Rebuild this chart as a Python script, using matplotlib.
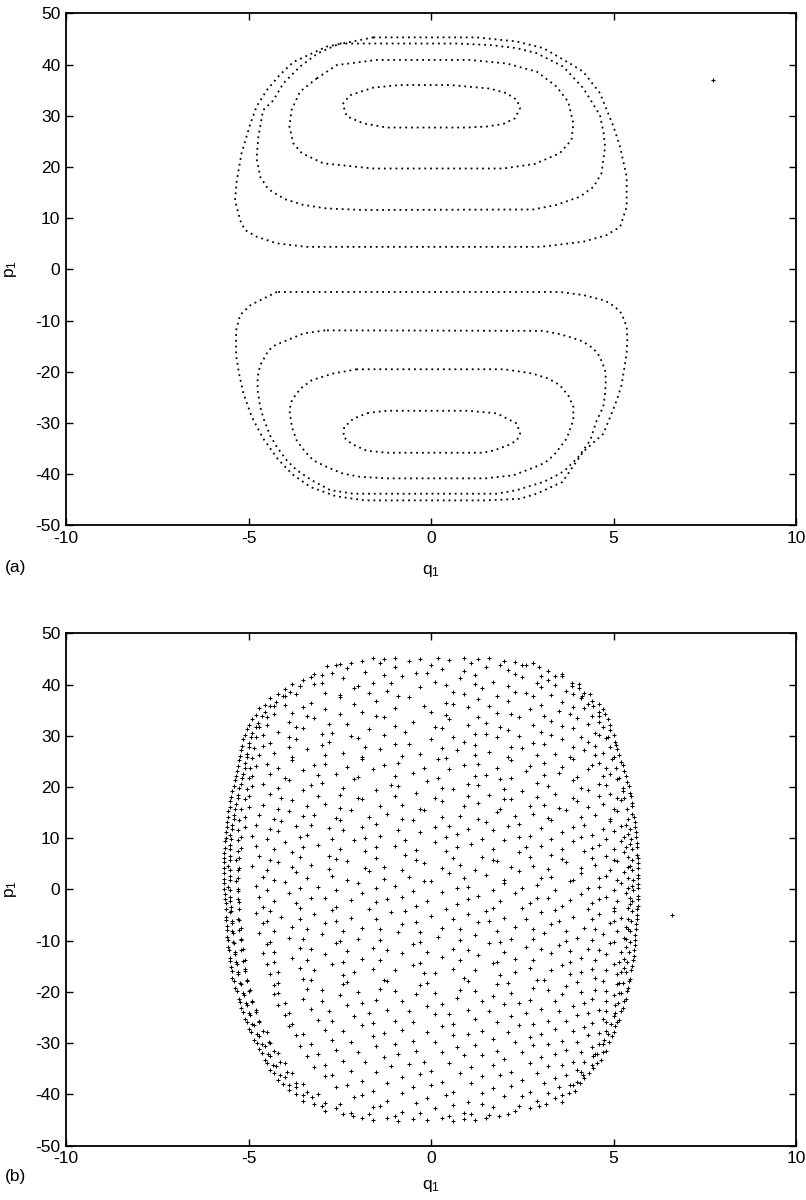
import matplotlib
matplotlib.use('Agg')
import matplotlib.pyplot as plt

plt.rcParams['font.family'] = ['Liberation Sans', 'DejaVu Sans']
plt.rcParams['mathtext.default'] = 'regular'
plt.rcParams['axes.unicode_minus'] = False

upper_inner = [(-2.42, 32.3), (-2.22, 34.0), (-1.58, 35.5), (-0.85, 36.0), (0.52, 36.0),
               (1.62, 35.3), (2.07, 34.4), (2.35, 33.1), (2.44, 31.5), (2.30, 29.5),
               (1.98, 28.4), (1.53, 27.9), (0.98, 27.7), (-1.21, 27.7), (-1.85, 28.5),
               (-2.31, 29.9), (-2.42, 32.3)]
upper_second = [(-3.13, 37.3), (-2.58, 39.9), (-1.49, 40.9), (1.07, 40.9), (2.07, 40.2),
                (2.9, 38.6), (3.44, 35.7), (3.76, 32.7), (3.9, 28.5), (3.85, 25.3),
                (3.53, 22.7), (2.85, 20.6), (1.98, 19.7), (-1.58, 19.7), (-2.95, 20.7),
                (-3.54, 22.7), (-3.77, 24.6), (-3.88, 27.9), (-3.82, 31.1), (-3.59, 34.7),
                (-3.13, 37.3)]
upper_third = [(-2.5, 44.1), (-1.67, 44.1), (0.7, 44.1), (1.62, 43.8), (2.35, 43.2),
               (2.9, 42.2), (3.62, 39.6), (4.17, 35.4), (4.63, 30.1), (4.73, 26.6),
               (4.77, 23.9), (4.67, 18.75), (4.45, 16.1), (4.08, 14.2), (3.44, 12.6),
               (2.8, 11.7), (-1.86, 11.6), (-2.86, 11.9), (-3.5, 12.6), (-4.0, 13.7),
               (-4.36, 15.2), (-4.5, 16.1), (-4.68, 18.1), (-4.78, 21.7), (-4.73, 25.9),
               (-4.6, 31.1), (-4.32, 33.0), (-4.05, 36.3), (-3.59, 39.6), (-3.1, 42.2),
               (-2.5, 44.1)]
upper_outer = [(-1.58, 45.3), (1.25, 45.3), (2.35, 44.5), (3.08, 43.2), (3.81, 40.2),
               (4.17, 38.6), (4.63, 34.4), (5.0, 27.9), (5.18, 23.9), (5.36, 18.1),
               (5.36, 12.2), (5.18, 8.3), (4.81, 6.7), (4.17, 5.4), (2.99, 4.4),
               (-3.41, 4.4), (-4.23, 5.1), (-4.78, 6.4), (-5.1, 7.7), (-5.23, 9.6),
               (-5.37, 13.5), (-5.32, 17.4), (-5.19, 22.7), (-4.96, 28.2), (-4.78, 31.8),
               (-4.5, 35.0), (-4.14, 38.0), (-3.77, 40.5), (-2.86, 43.5), (-1.58, 45.3)]

lower_inner = [(-1.71, -28.0), (-2.12, -29.1), (-2.38, -30.8), (-2.4, -32.7), (-2.17, -34.1),
               (-1.76, -35.4), (-1.21, -35.8), (1.43, -35.8), (1.75, -35.3), (2.12, -34.3),
               (2.35, -33.4), (2.44, -32.05), (2.35, -30.1), (1.8, -28.1), (1.0, -27.6),
               (-1.2, -27.6), (-1.71, -28.0)]
lower_second = [(-2.03, -19.5), (-2.67, -20.3), (-3.26, -21.6), (-3.58, -23.3), (-3.81, -25.5),
                (-3.88, -27.5), (-3.81, -30.8), (-3.68, -33.4), (-3.45, -35.6), (-3.22, -37.3),
                (-2.85, -38.6), (-2.4, -39.9), (-1.94, -40.5), (-1.2, -40.8), (1.5, -40.8),
                (2.26, -40.2), (2.99, -38.2), (3.21, -37.3), (3.4, -35.96), (3.58, -34.3),
                (3.72, -33.0), (3.9, -29.4), (3.9, -26.8), (3.76, -24.6), (3.53, -22.6),
                (3.21, -21.3), (2.76, -20.3), (2.0, -19.5), (-2.03, -19.5)]
lower_third = [(-2.9, -11.9), (-3.49, -12.5), (-4.27, -14.8), (-4.45, -15.8), (-4.68, -18.7),
               (-4.75, -21.0), (-4.75, -23.6), (-4.68, -26.8), (-4.59, -29.1), (-4.41, -32.4),
               (-4.22, -34.7), (-3.95, -37.3), (-3.68, -39.2), (-3.26, -41.2), (-2.76, -43.1),
               (-2.12, -43.8), (1.8, -43.8), (2.35, -43.1), (2.8, -42.1), (3.08, -41.5),
               (3.53, -39.9), (3.72, -38.9), (4.08, -36.3), (4.17, -35.3), (4.36, -33.4),
               (4.54, -29.5), (4.72, -26.8), (4.77, -24.2), (4.79, -21.6), (4.77, -19.7),
               (4.63, -17.1), (4.45, -15.45), (4.17, -14.1), (3.85, -13.3), (3.53, -12.65),
               (3.08, -12.0), (-2.9, -11.9)]
lower_outer = [(-4.22, -4.4), (-4.59, -5.7), (-4.95, -7.0), (-5.23, -8.9), (-5.34, -11.9),
               (-5.34, -16.8), (-5.25, -20.7), (-5.14, -24.2), (-4.91, -28.8), (-4.6, -33.0),
               (-4.2, -37.0), (-3.8, -40.0), (-3.3, -42.5), (-2.6, -44.3), (-1.8, -45.1),
               (1.5, -45.1), (2.44, -44.8), (2.89, -43.8), (3.6, -41.5), (4.17, -35.6),
               (4.72, -32.1), (4.95, -28.1), (5.09, -25.5), (5.22, -22.6), (5.31, -18.7),
               (5.36, -16.4), (5.38, -13.5), (5.36, -11.2), (5.22, -8.6), (5.04, -7.3),
               (4.77, -6.1), (4.17, -5.0), (3.53, -4.4), (-4.22, -4.4)]
a_stray = [(7.73, 37.0)]

# (b) chaotic orbit: scattered section points, (q1, p1)
b_points = [
    (-1.9, 44.7), (-1.6, 45.1), (-1.3, 44.9), (-1.0, 45.2), (-0.6, 44.6), (-0.3, 45.0), (0.2, 45.2),
    (0.5, 44.8), (0.9, 45.1), (1.3, 44.9), (1.6, 45.2), (2.0, 44.7), (2.3, 44.5),
    (-2.85, 43.6), (-2.6, 43.9), (-2.3, 43.2), (-1.8, 42.5), (-1.0, 43.4), (-0.4, 42.3), (0.3, 43.1),
    (0.9, 42.6), (1.5, 43.5), (2.1, 42.9), (2.6, 43.8), (2.95, 43.4), (3.2, 42.6),
    (-3.5, 40.8), (-3.3, 41.5), (-3.0, 40.3), (-2.4, 41.2), (-1.6, 40.4), (-0.8, 41.6), (0.1, 40.6),
    (0.8, 41.3), (1.7, 40.5), (2.5, 41.4), (3.2, 40.9), (3.6, 41.6), (3.85, 40.4),
    (-4.0, 39.2), (-3.85, 38.6), (-3.6, 39.7), (-2.9, 38.4), (-2.1, 39.3), (-1.2, 38.7), (-0.3, 39.5),
    (0.6, 38.5), (1.4, 39.4), (2.3, 38.6), (3.0, 39.6), (3.7, 38.8), (4.05, 39.3), (4.2, 38.4),
    (-4.4, 37.3), (-4.25, 36.6), (-4.0, 37.8), (-3.3, 36.5), (-2.5, 37.5), (-1.5, 36.8), (-0.6, 37.6),
    (0.4, 36.4), (1.3, 37.2), (2.1, 36.7), (2.8, 37.7), (3.6, 36.6), (4.1, 37.4), (4.4, 36.8),
    (-4.7, 35.4), (-4.55, 34.7), (-4.3, 35.8), (-3.8, 34.5), (-2.9, 35.3), (-1.9, 34.6), (-1.0, 35.5),
    (0.0, 34.7), (1.0, 35.6), (1.8, 34.4), (2.7, 35.2), (3.5, 34.8), (4.2, 35.5), (4.6, 34.6), (4.7, 35.3),
    (-4.9, 33.2), (-4.75, 32.5), (-4.5, 33.7), (-3.9, 32.6), (-3.2, 33.4), (-2.3, 32.4), (-1.3, 33.6),
    (-0.5, 32.7), (0.5, 33.3), (1.5, 32.5), (2.4, 33.6), (3.3, 32.8), (4.0, 33.4), (4.6, 32.6), (4.85, 33.3),
    (-5.05, 31.4), (-4.9, 30.6), (-4.7, 31.7), (-4.2, 30.8), (-3.5, 31.5), (-2.7, 30.5), (-1.7, 31.3),
    (-0.7, 30.7), (0.3, 31.6), (1.2, 30.4), (2.1, 31.2), (3.0, 30.8), (3.9, 31.5), (4.5, 30.6), (4.9, 31.2),
    (-5.15, 29.3), (-5.0, 28.5), (-4.8, 29.7), (-4.4, 28.6), (-3.7, 29.4), (-2.8, 28.7), (-2.0, 29.6),
    (-1.0, 28.4), (0.0, 29.3), (0.9, 28.8), (1.8, 29.7), (2.8, 28.5), (3.6, 29.4), (4.3, 28.7),
    (4.8, 29.5), (5.05, 28.8),
    (-5.2, 27.2), (-5.05, 26.5), (-4.85, 27.7), (-4.3, 26.6), (-3.4, 27.4), (-2.4, 26.7), (-1.4, 27.5),
    (-0.3, 26.4), (0.7, 27.3), (1.6, 26.8), (2.5, 27.6), (3.4, 26.5), (4.2, 27.3), (4.7, 26.6), (5.1, 27.4),
    (-5.25, 25.3), (-5.1, 24.6), (-4.9, 25.6), (-4.5, 24.5), (-3.8, 25.2), (-2.9, 24.4), (-1.9, 25.5),
    (-0.9, 24.7), (0.2, 25.4), (1.3, 24.5), (2.2, 25.3), (3.1, 24.6), (3.9, 25.5), (4.6, 24.7),
    (4.95, 25.4), (5.2, 24.8),
    (-5.32, 23.2), (-5.15, 22.5), (-4.95, 23.7), (-4.4, 22.6), (-3.5, 23.3), (-2.6, 22.5), (-1.6, 23.5),
    (-0.5, 22.7), (0.5, 23.6), (1.5, 22.4), (2.6, 23.2), (3.5, 22.8), (4.3, 23.5), (4.9, 22.6), (5.3, 23.1),
    (-5.38, 21.4), (-5.2, 20.6), (-5.0, 21.7), (-4.6, 20.5), (-3.9, 21.3), (-3.0, 20.7), (-2.1, 21.6),
    (-1.1, 20.4), (-0.1, 21.2), (1.0, 20.6), (1.9, 21.5), (2.9, 20.8), (3.9, 21.4), (4.6, 20.5),
    (5.1, 21.6), (5.38, 20.9),
    (-5.44, 19.2), (-5.3, 18.5), (-5.05, 19.6), (-4.4, 18.7), (-3.5, 19.4), (-2.5, 18.4), (-1.5, 19.5),
    (-0.4, 18.8), (0.6, 19.6), (1.6, 18.5), (2.5, 19.3), (3.4, 18.7), (4.3, 19.5), (4.9, 18.6),
    (5.25, 19.3), (5.45, 18.8),
    (-5.5, 17.3), (-5.35, 16.6), (-5.1, 17.7), (-4.6, 16.5), (-3.8, 17.4), (-2.9, 16.7), (-1.9, 17.6),
    (-0.8, 16.4), (0.3, 17.3), (1.3, 16.8), (2.2, 17.6), (3.1, 16.5), (4.0, 17.2), (4.7, 16.6),
    (5.2, 17.5), (5.5, 16.9),
    (-5.55, 15.4), (-5.4, 14.6), (-5.2, 15.7), (-4.7, 14.5), (-3.9, 15.3), (-3.2, 14.6), (-2.2, 15.5),
    (-1.2, 14.7), (-0.2, 15.6), (0.8, 14.4), (1.8, 15.2), (2.8, 14.8), (3.7, 15.5), (4.5, 14.6),
    (5.1, 15.4), (5.5, 14.7),
    (-5.58, 13.2), (-5.45, 12.5), (-5.25, 13.6), (-4.8, 12.6), (-4.1, 13.4), (-3.3, 12.5), (-2.5, 13.5),
    (-1.5, 12.8), (-0.5, 13.6), (0.5, 12.4), (1.5, 13.2), (2.4, 12.7), (3.3, 13.6), (4.2, 12.5),
    (4.9, 13.3), (5.35, 12.6), (5.58, 13.1),
    (-5.62, 11.3), (-5.5, 10.6), (-5.3, 11.7), (-4.9, 10.5), (-4.2, 11.4), (-3.4, 10.7), (-2.4, 11.6),
    (-1.4, 10.4), (-0.3, 11.2), (0.7, 10.8), (1.7, 11.6), (2.7, 10.5), (3.6, 11.3), (4.4, 10.7),
    (5.0, 11.5), (5.4, 10.8), (5.62, 11.2),
    (-5.64, 9.4), (-5.5, 8.6), (-5.3, 9.7), (-4.8, 8.5), (-4.0, 9.3), (-3.1, 8.7), (-2.1, 9.6),
    (-1.0, 8.4), (0.1, 9.2), (1.1, 8.8), (2.0, 9.6), (3.0, 8.5), (3.9, 9.4), (4.6, 8.7),
    (5.2, 9.5), (5.45, 8.8), (5.63, 9.1),
    (-5.66, 7.2), (-5.52, 6.5), (-5.3, 7.6), (-4.7, 6.6), (-3.8, 7.4), (-2.8, 6.5), (-1.8, 7.5),
    (-0.7, 6.7), (0.4, 7.6), (1.4, 6.4), (2.4, 7.3), (3.3, 6.8), (4.2, 7.6), (4.8, 6.5),
    (5.3, 7.3), (5.65, 6.8),
    (-5.66, 5.3), (-5.55, 4.5), (-5.35, 5.7), (-4.9, 4.6), (-4.2, 5.4), (-3.3, 4.7), (-2.3, 5.6),
    (-1.3, 4.4), (-0.2, 5.2), (0.8, 4.8), (1.8, 5.6), (2.8, 4.5), (3.7, 5.3), (4.5, 4.7),
    (5.1, 5.5), (5.45, 4.6), (5.67, 5.2),
    (-5.66, 3.3), (-5.5, 2.6), (-5.3, 3.7), (-4.6, 2.5), (-3.7, 3.4), (-2.7, 2.7), (-1.7, 3.6),
    (-0.6, 2.4), (0.5, 3.2), (1.5, 2.8), (2.4, 3.6), (3.3, 2.5), (4.1, 3.3), (4.8, 2.7),
    (5.3, 3.5), (5.68, 2.9),
    (-5.66, 1.2), (-5.55, 0.5), (-5.35, 1.6), (-4.8, 0.6), (-4.0, 1.4), (-3.1, 0.4), (-2.0, 1.3),
    (-1.0, 0.7), (0.0, 1.6), (1.0, 0.4), (2.0, 1.2), (2.9, 0.8), (3.8, 1.6), (4.6, 0.5),
    (5.2, 1.3), (5.5, 0.6), (5.68, 1.1),
    (-5.65, -0.8), (-5.5, -1.5), (-5.3, -0.4), (-4.7, -1.4), (-3.9, -0.6), (-2.9, -1.6), (-1.9, -0.7),
    (-0.8, -1.5), (0.3, -0.5), (1.3, -1.3), (2.3, -0.6), (3.2, -1.6), (4.1, -0.8), (4.8, -1.5),
    (5.35, -0.6), (5.68, -1.2),
    (-5.63, -2.7), (-5.48, -3.5), (-5.25, -2.4), (-4.6, -3.4), (-3.7, -2.6), (-2.6, -3.5), (-1.5, -2.5),
    (-0.4, -3.3), (0.7, -2.8), (1.7, -3.6), (2.7, -2.6), (3.6, -3.3), (4.4, -2.7), (5.0, -3.6),
    (5.45, -2.8), (5.66, -3.2),
    (-5.62, -5.3), (-5.5, -4.5), (-5.3, -5.7), (-4.8, -4.6), (-4.1, -5.4), (-3.2, -4.7), (-2.2, -5.6),
    (-1.1, -4.4), (0.0, -5.2), (1.0, -4.8), (2.0, -5.6), (3.0, -4.5), (3.9, -5.3), (4.6, -4.7),
    (5.2, -5.5), (5.64, -4.9),
    (-5.6, -7.2), (-5.45, -6.5), (-5.2, -7.6), (-4.6, -6.6), (-3.8, -7.4), (-2.9, -6.5), (-1.9, -7.5),
    (-0.8, -6.7), (0.3, -7.6), (1.3, -6.4), (2.3, -7.3), (3.3, -6.8), (4.2, -7.6), (4.9, -6.5),
    (5.35, -7.3), (5.62, -6.8),
    (-5.58, -9.3), (-5.42, -8.6), (-5.2, -9.7), (-4.7, -8.5), (-3.9, -9.4), (-3.0, -8.7), (-2.0, -9.6),
    (-0.9, -8.4), (0.2, -9.2), (1.2, -8.8), (2.2, -9.6), (3.1, -8.5), (4.0, -9.4), (4.7, -8.7),
    (5.3, -9.5), (5.6, -8.9),
    (-5.55, -11.2), (-5.4, -10.5), (-5.15, -11.6), (-4.5, -10.6), (-3.6, -11.4), (-2.6, -10.5),
    (-1.6, -11.5), (-0.5, -10.7), (0.6, -11.6), (1.6, -10.4), (2.6, -11.3), (3.5, -10.8),
    (4.3, -11.6), (4.9, -10.5), (5.35, -11.3), (5.58, -10.8),
    (-5.52, -13.3), (-5.38, -12.6), (-5.1, -13.7), (-4.6, -12.5), (-3.8, -13.4), (-2.9, -12.7),
    (-1.9, -13.6), (-0.8, -12.4), (0.3, -13.2), (1.3, -12.8), (2.3, -13.6), (3.3, -12.5),
    (4.1, -13.3), (4.8, -12.7), (5.3, -13.5), (5.55, -12.9),
    (-5.48, -15.2), (-5.32, -14.5), (-5.1, -15.6), (-4.5, -14.6), (-3.6, -15.4), (-2.7, -14.5),
    (-1.6, -15.5), (-0.5, -14.7), (0.6, -15.6), (1.7, -14.4), (2.7, -15.3), (3.6, -14.8),
    (4.4, -15.6), (5.0, -14.5), (5.3, -15.3), (5.5, -14.9),
    (-5.44, -17.3), (-5.28, -16.6), (-5.05, -17.7), (-4.4, -16.5), (-3.5, -17.4), (-2.4, -16.7),
    (-1.3, -17.6), (-0.2, -16.4), (0.9, -17.3), (1.9, -16.8), (2.9, -17.6), (3.8, -16.5),
    (4.5, -17.2), (5.1, -16.6), (5.45, -17.4),
    (-5.36, -19.2), (-5.2, -18.5), (-4.95, -19.6), (-4.3, -18.6), (-3.4, -19.4), (-2.4, -18.5),
    (-1.4, -19.5), (-0.3, -18.7), (0.8, -19.6), (1.8, -18.4), (2.8, -19.3), (3.7, -18.8),
    (4.5, -19.6), (5.1, -18.5), (5.4, -19.2),
    (-5.27, -21.3), (-5.12, -20.6), (-4.9, -21.7), (-4.3, -20.5), (-3.5, -21.4), (-2.5, -20.7),
    (-1.5, -21.6), (-0.4, -20.4), (0.7, -21.2), (1.7, -20.8), (2.7, -21.6), (3.6, -20.5),
    (4.4, -21.3), (5.0, -20.7), (5.33, -21.4),
    (-5.2, -23.2), (-5.05, -22.5), (-4.8, -23.6), (-4.2, -22.6), (-3.3, -23.4), (-2.3, -22.5),
    (-1.2, -23.5), (-0.1, -22.7), (1.0, -23.6), (2.0, -22.4), (3.0, -23.3), (3.9, -22.8),
    (4.6, -23.6), (5.05, -22.5), (5.25, -23.2),
    (-5.1, -25.3), (-4.95, -24.6), (-4.7, -25.7), (-4.0, -24.5), (-3.1, -25.4), (-2.1, -24.7),
    (-1.0, -25.6), (0.1, -24.4), (1.2, -25.2), (2.2, -24.8), (3.2, -25.6), (4.0, -24.5),
    (4.7, -25.3), (5.0, -24.7), (5.15, -25.4),
    (-5.0, -27.2), (-4.85, -26.5), (-4.6, -27.6), (-3.9, -26.6), (-2.9, -27.4), (-1.9, -26.5),
    (-0.8, -27.5), (0.3, -26.7), (1.4, -27.6), (2.4, -26.4), (3.4, -27.3), (4.2, -26.8),
    (4.8, -27.6), (5.05, -26.7),
    (-4.85, -29.3), (-4.7, -28.6), (-4.45, -29.7), (-3.7, -28.5), (-2.7, -29.4), (-1.6, -28.7),
    (-0.5, -29.6), (0.6, -28.4), (1.7, -29.2), (2.7, -28.8), (3.6, -29.6), (4.3, -28.5),
    (4.75, -29.3), (4.95, -28.7),
    (-4.7, -31.2), (-4.55, -30.5), (-4.3, -31.6), (-3.6, -30.6), (-2.6, -31.4), (-1.5, -30.5),
    (-0.4, -31.5), (0.7, -30.7), (1.8, -31.6), (2.8, -30.4), (3.7, -31.3), (4.4, -30.8), (4.8, -31.5),
    (-4.55, -33.3), (-4.4, -32.6), (-4.15, -33.7), (-3.4, -32.5), (-2.4, -33.4), (-1.3, -32.7),
    (-0.2, -33.6), (0.9, -32.4), (2.0, -33.2), (3.0, -32.8), (3.9, -33.6), (4.45, -32.6), (4.65, -33.3),
    (-4.4, -35.2), (-4.25, -34.5), (-3.95, -35.6), (-3.2, -34.6), (-2.2, -35.4), (-1.1, -34.5),
    (0.0, -35.5), (1.1, -34.7), (2.2, -35.6), (3.2, -34.4), (4.0, -35.3), (4.45, -34.8),
    (-4.2, -37.3), (-4.0, -36.6), (-3.7, -37.7), (-2.9, -36.5), (-1.9, -37.4), (-0.8, -36.7),
    (0.3, -37.6), (1.4, -36.4), (2.5, -37.2), (3.4, -36.8), (4.0, -37.6), (4.2, -36.9),
    (-3.9, -39.2), (-3.7, -38.5), (-3.4, -39.6), (-2.6, -38.6), (-1.6, -39.4), (-0.5, -38.5),
    (0.6, -39.5), (1.7, -38.7), (2.7, -39.6), (3.5, -38.5), (3.95, -39.3),
    (-3.5, -41.3), (-3.25, -40.6), (-2.9, -41.7), (-2.1, -40.5), (-1.2, -41.4), (-0.1, -40.7),
    (1.0, -41.6), (2.0, -40.4), (2.9, -41.3), (3.4, -40.8), (3.6, -41.5),
    (-2.9, -43.2), (-2.6, -42.6), (-2.2, -43.7), (-1.6, -42.5), (-0.8, -43.4), (0.1, -42.7),
    (0.9, -43.6), (1.7, -42.4), (2.3, -43.3), (2.7, -42.7),
    (-1.9, -44.6), (-1.6, -45.0), (-1.2, -44.7), (-0.9, -45.2), (-0.5, -44.8), (-0.1, -45.1),
    (0.3, -44.6), (0.6, -45.2), (0.9, -44.9), (1.2, -45.1), (1.5, -44.6),
]

# (b) further points lying between the rows above
b_between = [
    (-1.4, 44.2), (0.0, 43.8), (1.1, 44.3), (1.9, 43.9),
    (-2.7, 42.2), (-1.3, 41.8), (-0.1, 42.3), (1.2, 41.9), (2.3, 42.1), (3.0, 41.7),
    (-3.2, 40.1), (-2.0, 39.8), (-1.1, 40.3), (0.4, 39.9), (1.2, 40.2), (2.1, 39.7), (2.9, 40.3), (3.4, 39.9),
    (-3.7, 38.1), (-2.5, 37.9), (-1.7, 38.3), (-0.9, 37.8), (0.9, 38.2), (1.8, 37.7), (2.6, 38.3),
    (3.3, 37.9), (3.9, 38.1),
    (-4.0, 36.1), (-3.5, 35.7), (-2.1, 36.2), (-0.2, 35.8), (0.6, 36.3), (1.6, 35.9), (3.0, 36.1),
    (3.9, 35.7), (4.3, 36.3),
    (-4.3, 34.2), (-3.4, 33.8), (-2.5, 34.3), (-1.5, 33.9), (0.4, 34.1), (1.3, 33.7), (2.2, 34.2),
    (3.1, 33.9), (3.8, 34.3), (4.4, 33.8),
    (-4.5, 32.1), (-3.7, 31.8), (-2.8, 32.3), (-1.0, 32.0), (0.1, 31.7), (1.0, 32.2), (1.9, 31.8),
    (2.8, 32.2), (3.6, 31.9), (4.3, 32.3),
    (-4.6, 30.2), (-3.9, 29.8), (-3.0, 30.3), (-2.2, 29.9), (-1.3, 30.1), (0.6, 29.8), (1.5, 30.3),
    (2.4, 29.9), (3.3, 30.2), (4.1, 29.8), (4.6, 30.1),
    (-4.6, 28.1), (-3.9, 27.8), (-3.0, 28.2), (-1.8, 27.9), (-0.6, 28.3), (0.3, 27.7), (1.2, 28.2),
    (2.2, 27.8), (3.1, 28.3), (3.9, 27.9), (4.5, 28.1),
    (-4.7, 26.2), (-3.8, 25.8), (-2.9, 26.3), (-1.9, 25.9), (-0.8, 26.1), (0.4, 25.7), (1.2, 26.2),
    (2.1, 25.8), (2.9, 26.3), (3.8, 25.9), (4.5, 26.2),
    (-4.8, 24.1), (-4.2, 23.8), (-3.2, 24.2), (-2.3, 23.9), (-1.3, 24.3), (-0.2, 23.8), (0.9, 24.2),
    (1.8, 23.7), (2.7, 24.1), (3.6, 23.9), (4.4, 24.3), (4.8, 23.8),
    (-4.9, 22.2), (-4.0, 21.8), (-3.1, 22.3), (-2.0, 21.9), (-1.0, 22.1), (0.2, 21.7), (1.2, 22.2),
    (2.2, 21.8), (3.1, 22.3), (4.0, 21.9), (4.7, 22.1),
    (-4.9, 20.1), (-4.2, 19.8), (-3.3, 20.3), (-2.4, 19.9), (-0.9, 20.2), (0.3, 19.8), (1.3, 20.3),
    (2.0, 19.7), (3.2, 20.1), (4.1, 19.9), (4.8, 20.3),
    (-5.0, 18.2), (-4.1, 17.8), (-3.1, 18.2), (-2.0, 17.9), (-1.0, 18.3), (0.1, 17.8), (1.0, 18.2),
    (2.0, 17.7), (2.9, 18.1), (3.9, 17.9), (4.6, 18.3), (5.1, 17.8),
    (-5.0, 16.1), (-4.2, 15.8), (-3.4, 16.3), (-2.5, 15.9), (-1.4, 16.2), (-0.3, 15.7), (0.9, 16.2),
    (1.9, 15.8), (2.7, 16.3), (3.5, 15.9), (4.3, 16.1), (5.0, 15.8),
    (-5.1, 14.2), (-4.3, 13.8), (-3.5, 14.3), (-2.6, 13.9), (-1.7, 14.1), (-0.8, 13.7), (0.3, 14.2),
    (1.3, 13.8), (2.3, 14.3), (3.2, 13.9), (4.1, 14.2), (4.9, 13.8),
    (-5.1, 12.1), (-4.4, 11.8), (-3.7, 12.3), (-2.8, 11.9), (-1.9, 12.2), (-0.9, 11.7), (0.1, 12.2),
    (1.0, 11.8), (2.1, 12.3), (3.0, 11.9), (3.9, 12.1), (4.7, 11.8), (5.2, 12.3),
    (-5.2, 10.2), (-4.5, 9.8), (-3.6, 10.3), (-2.7, 9.9), (-1.8, 10.1), (-0.7, 9.7), (0.4, 10.2),
    (1.4, 9.8), (2.4, 10.3), (3.3, 9.9), (4.1, 10.2), (4.8, 9.8), (5.3, 10.2),
    (-5.2, 8.1), (-4.3, 7.8), (-3.5, 8.3), (-2.5, 7.9), (-1.5, 8.2), (-0.4, 7.7), (0.7, 8.2),
    (1.7, 7.8), (2.6, 8.3), (3.6, 7.9), (4.4, 8.1), (5.0, 7.8), (5.35, 8.3),
    (-5.25, 6.2), (-4.4, 5.8), (-3.6, 6.3), (-2.6, 5.9), (-1.5, 6.1), (-0.4, 5.7), (0.6, 6.2),
    (1.7, 5.8), (2.7, 6.3), (3.6, 5.9), (4.4, 6.2), (5.0, 5.8), (5.4, 6.3),
    (-5.25, 4.1), (-4.5, 3.8), (-3.8, 4.3), (-2.8, 3.9), (-1.8, 4.2), (-0.8, 3.7), (0.3, 4.2),
    (1.2, 3.8), (2.2, 4.3), (3.2, 3.9), (4.1, 4.1), (4.9, 3.8), (5.4, 4.3),
    (-5.3, 2.2), (-4.3, 1.8), (-3.4, 2.3), (-2.3, 1.9), (-1.3, 2.1), (-0.2, 1.7), (0.9, 2.2),
    (2.0, 1.8), (3.0, 2.3), (3.9, 1.9), (4.6, 2.2), (5.1, 1.8), (5.4, 2.3),
    (-5.3, 0.1), (-4.5, -0.2), (-3.6, 0.3), (-2.6, -0.1), (-1.5, 0.2), (-0.5, -0.3), (0.7, 0.2),
    (1.7, -0.2), (2.5, 0.3), (3.4, -0.1), (4.3, 0.2), (5.0, -0.2), (5.4, 0.3),
    (-5.3, -1.9), (-4.3, -2.2), (-3.3, -1.7), (-2.2, -2.1), (-1.2, -1.8), (-0.1, -2.3), (1.0, -1.8),
    (1.9, -2.2), (2.9, -1.7), (3.8, -2.1), (4.6, -1.8), (5.1, -2.2), (5.45, -1.7),
    (-5.25, -3.9), (-4.4, -4.2), (-3.6, -3.7), (-2.7, -4.1), (-1.7, -3.8), (-0.7, -4.3), (0.4, -3.8),
    (1.5, -4.2), (2.5, -3.7), (3.4, -4.1), (4.3, -3.8), (5.0, -4.2), (5.4, -3.7),
    (-5.25, -5.9), (-4.5, -6.2), (-3.6, -5.7), (-2.6, -6.1), (-1.5, -5.8), (-0.4, -6.3), (0.6, -5.8),
    (1.6, -6.2), (2.6, -5.7), (3.5, -6.1), (4.4, -5.8), (5.0, -6.2), (5.4, -5.7),
    (-5.25, -7.9), (-4.3, -8.2), (-3.4, -7.7), (-2.4, -8.1), (-1.4, -7.8), (-0.3, -8.3), (0.8, -7.8),
    (1.8, -8.2), (2.8, -7.7), (3.7, -8.1), (4.5, -7.8), (5.1, -8.2), (5.4, -7.7),
    (-5.2, -9.9), (-4.4, -10.2), (-3.5, -9.7), (-2.5, -10.1), (-1.4, -9.8), (-0.3, -10.3), (0.8, -9.8),
    (1.9, -10.2), (2.8, -9.7), (3.7, -10.1), (4.4, -9.8), (5.0, -10.2), (5.35, -9.7),
    (-5.2, -11.9), (-4.3, -12.2), (-3.3, -11.7), (-2.3, -12.1), (-1.2, -11.8), (-0.1, -12.3),
    (1.0, -11.8), (2.0, -12.2), (3.0, -11.7), (3.8, -12.1), (4.6, -11.8), (5.2, -12.2),
    (-5.15, -13.9), (-4.3, -14.2), (-3.4, -13.7), (-2.4, -14.1), (-1.4, -13.8), (-0.3, -14.3),
    (0.8, -13.8), (1.8, -14.2), (2.8, -13.7), (3.8, -14.1), (4.5, -13.8), (5.15, -14.2),
    (-5.1, -15.9), (-4.2, -16.2), (-3.2, -15.7), (-2.1, -16.1), (-1.0, -15.8), (0.1, -16.3),
    (1.2, -15.8), (2.3, -16.2), (3.3, -15.7), (4.1, -16.1), (4.8, -15.8), (5.2, -16.2),
    (-5.05, -17.9), (-4.2, -18.2), (-3.3, -17.7), (-2.3, -18.1), (-1.2, -17.8), (-0.1, -18.3),
    (1.0, -17.8), (2.1, -18.2), (3.1, -17.7), (4.0, -18.1), (4.7, -17.8), (5.15, -18.2),
    (-5.0, -19.9), (-4.2, -20.2), (-3.0, -19.7), (-2.0, -20.1), (-1.0, -19.8), (0.1, -20.3),
    (1.2, -19.8), (2.2, -20.2), (3.2, -19.7), (4.1, -20.1), (4.8, -19.8), (5.15, -20.2),
    (-4.9, -21.9), (-4.0, -22.2), (-3.0, -21.7), (-1.9, -22.1), (-0.8, -21.8), (0.3, -22.3),
    (1.4, -21.8), (2.4, -22.2), (3.4, -21.7), (4.2, -22.1), (4.8, -21.8),
    (-4.8, -23.9), (-3.9, -24.2), (-2.8, -23.7), (-1.7, -24.1), (-0.6, -23.8), (0.5, -24.3),
    (1.6, -23.8), (2.6, -24.2), (3.5, -23.7), (4.3, -24.1), (4.8, -23.8),
    (-4.7, -25.9), (-3.8, -26.2), (-2.7, -25.7), (-1.6, -26.1), (-0.5, -25.8), (0.6, -26.3),
    (1.8, -25.8), (2.8, -26.2), (3.7, -25.7), (4.4, -26.1), (4.8, -25.8),
    (-4.5, -27.9), (-3.5, -28.2), (-2.4, -27.7), (-1.3, -28.1), (-0.1, -27.8), (1.0, -28.3),
    (2.1, -27.8), (3.0, -28.2), (3.9, -27.7), (4.6, -28.1),
    (-4.4, -29.9), (-3.3, -30.2), (-2.2, -29.7), (-1.0, -30.1), (0.1, -29.8), (1.2, -30.3),
    (2.3, -29.8), (3.2, -30.2), (4.0, -29.7), (4.6, -30.1),
    (-4.2, -31.9), (-3.1, -32.2), (-2.0, -31.7), (-0.9, -32.1), (0.3, -31.8), (1.4, -32.3),
    (2.5, -31.8), (3.4, -32.2), (4.1, -31.7), (4.5, -32.1),
    (-4.0, -33.9), (-2.9, -34.2), (-1.8, -33.7), (-0.6, -34.1), (0.5, -33.8), (1.7, -34.3),
    (2.7, -33.8), (3.6, -34.2), (4.2, -33.7),
    (-3.8, -35.9), (-2.7, -36.2), (-1.5, -35.7), (-0.3, -36.1), (0.8, -35.8), (1.9, -36.3),
    (2.9, -35.8), (3.7, -36.2), (4.1, -35.7),
    (-3.5, -37.9), (-2.3, -38.2), (-1.2, -37.7), (0.0, -38.1), (1.1, -37.8), (2.2, -38.3),
    (3.1, -37.8), (3.8, -38.2),
    (-3.1, -39.9), (-1.9, -40.2), (-0.8, -39.7), (0.4, -40.1), (1.4, -39.8), (2.5, -40.3), (3.2, -39.8),
    (-2.5, -41.9), (-1.4, -42.2), (-0.4, -41.7), (0.6, -42.1), (1.4, -41.8), (2.4, -42.2),
    (-1.7, -43.9), (-1.0, -44.2), (-0.3, -43.7), (0.5, -44.3), (1.1, -43.8), (1.6, -44.1),
]

# (b) the denser rim of the chaotic sea
b_rim = [
    (-2.5, 44.0), (-2.2, 44.3), (2.8, 44.2), (2.5, 43.9), (-3.2, 42.0), (-3.0, 41.8), (3.6, 42.1), (3.4, 41.7),
    (-3.8, 40.1), (-3.6, 39.8), (4.05, 40.2), (3.85, 39.8), (-4.2, 38.1), (-4.05, 37.8), (4.35, 38.2), (4.15, 37.8),
    (-4.55, 36.1), (-4.4, 35.8), (4.6, 36.2), (4.45, 35.8), (-4.8, 34.1), (-4.62, 33.8), (4.78, 34.2), (4.6, 33.8),
    (-4.98, 32.1), (-4.8, 31.8), (4.9, 32.2), (4.72, 31.8), (-5.1, 30.1), (-4.92, 29.8), (5.0, 30.2), (4.85, 29.8),
    (-5.18, 28.1), (-5.0, 27.8), (5.08, 28.2), (4.9, 27.8), (-5.22, 26.1), (-5.05, 25.8), (5.16, 26.2), (5.0, 25.8),
    (-5.28, 24.1), (-5.1, 23.8), (5.25, 24.2), (5.08, 23.8), (-5.35, 22.1), (-5.18, 21.8), (5.34, 22.2), (5.15, 21.8),
    (-5.41, 20.1), (-5.25, 19.8), (5.42, 20.2), (5.25, 19.8), (-5.47, 18.1), (-5.3, 17.8), (5.48, 18.2), (5.3, 17.8),
    (-5.52, 16.1), (-5.36, 15.8), (5.52, 16.2), (5.36, 15.8), (-5.56, 14.1), (-5.4, 13.8), (5.57, 14.2), (5.4, 13.8),
    (-5.6, 12.1), (-5.45, 11.8), (5.6, 12.2), (5.44, 11.8), (-5.63, 10.1), (-5.47, 9.8), (5.62, 10.2), (5.47, 9.8),
    (-5.65, 8.1), (-5.5, 7.8), (5.64, 8.2), (5.5, 7.8), (-5.66, 6.1), (-5.5, 5.8), (5.66, 6.2), (5.52, 5.8),
    (-5.66, 4.1), (-5.52, 3.8), (5.68, 4.2), (5.52, 3.8), (-5.66, 2.1), (-5.52, 1.8), (5.68, 2.2), (5.53, 1.8),
    (-5.66, 0.1), (-5.52, -0.2), (5.68, 0.2), (5.53, -0.2), (-5.64, -1.9), (-5.5, -2.2), (5.67, -1.8), (5.52, -2.2),
    (-5.63, -3.9), (-5.48, -4.2), (5.65, -3.8), (5.5, -4.2), (-5.61, -5.9), (-5.46, -6.2), (5.63, -5.8), (5.48, -6.2),
    (-5.59, -7.9), (-5.44, -8.2), (5.61, -7.8), (5.46, -8.2), (-5.57, -9.9), (-5.42, -10.2), (5.59, -9.8), (5.44, -10.2),
    (-5.54, -11.9), (-5.38, -12.2), (5.57, -11.8), (5.42, -12.2), (-5.5, -13.9), (-5.35, -14.2), (5.53, -13.8), (5.38, -14.2),
    (-5.46, -15.9), (-5.3, -16.2), (5.48, -15.8), (5.33, -16.2), (-5.4, -17.9), (-5.24, -18.2), (5.43, -17.8), (5.27, -18.2),
    (-5.32, -19.9), (-5.16, -20.2), (5.37, -19.8), (5.2, -20.2), (-5.24, -21.9), (-5.08, -22.2), (5.29, -21.8), (5.12, -22.2),
    (-5.15, -23.9), (-5.0, -24.2), (5.2, -23.8), (5.04, -24.2), (-5.05, -25.9), (-4.9, -26.2), (5.1, -25.8), (4.94, -26.2),
    (-4.93, -27.9), (-4.78, -28.2), (5.0, -27.8), (4.84, -28.2), (-4.78, -29.9), (-4.62, -30.2), (4.88, -29.8), (4.72, -30.2),
    (-4.62, -31.9), (-4.46, -32.2), (4.72, -31.8), (4.56, -32.2), (-4.48, -33.9), (-4.32, -34.2), (4.55, -33.8), (4.4, -34.2),
    (-4.3, -35.9), (-4.14, -36.2), (4.32, -35.8), (4.16, -36.2), (-4.05, -37.9), (-3.88, -38.2), (4.08, -37.8), (3.9, -38.2),
    (-3.7, -39.9), (-3.5, -40.2), (3.78, -39.8), (3.58, -40.2), (-3.2, -41.9), (-3.0, -42.2), (3.15, -41.8), (2.95, -42.2),
    (-2.4, -43.9), (-2.15, -44.2), (2.1, -43.8), (1.85, -44.2),
]
b_stray = [(6.6, -5.0)]

x_ticks = [-10, -5, 0, 5, 10]
y_ticks = [-50, -40, -30, -20, -10, 0, 10, 20, 30, 40, 50]

fig = plt.figure(figsize=(8.06, 12.0), dpi=100)
ax_a = fig.add_axes([0.0819, 0.5621, 0.9057, 0.4268])
ax_b = fig.add_axes([0.0819, 0.0454, 0.9057, 0.4268])

for curve in [upper_inner, upper_second, upper_third, upper_outer,
              lower_inner, lower_second, lower_third, lower_outer]:
    q, p = zip(*curve)
    ax_a.plot(q, p, color='black', linewidth=1.3, linestyle=(0, (1.0, 2.2)))
q, p = zip(*a_stray)
ax_a.plot(q, p, '+', color='black', ms=2.5, mew=0.8)

for pts in [b_points, b_between, b_rim, b_stray]:
    q, p = zip(*pts)
    ax_b.plot(q, p, '+', color='black', ms=2.3, mew=0.7, linestyle='none')

# per panel: x-label offset and panel-tag offset below the axis (pixels)
for ax, tag, xlab_y, tag_dy in [(ax_a, '(a)', -0.073, 42), (ax_b, '(b)', -0.064, 31)]:
    ax.set_xlim(-10, 10)
    ax.set_ylim(-50, 50)
    ax.set_xticks(x_ticks)
    ax.set_yticks(y_ticks)
    ax.tick_params(direction='in', top=True, right=True, length=5, width=1.0,
                   labelsize=12.5, pad=4)
    for s in ax.spines.values():
        s.set_linewidth(1.3)
    ax.set_xlabel('q$_1$', fontsize=12.5)
    ax.xaxis.set_label_coords(0.5, xlab_y)
    ax.set_ylabel('p$_1$', fontsize=12.5)
    ax.yaxis.set_label_coords(-0.064, 0.5)
    box = ax.get_position()
    fig.text(5 / 806, box.y0 - tag_dy / 1200, tag, ha='left', va='center', fontsize=12.5)

fig.savefig('out.png', dpi=100)
